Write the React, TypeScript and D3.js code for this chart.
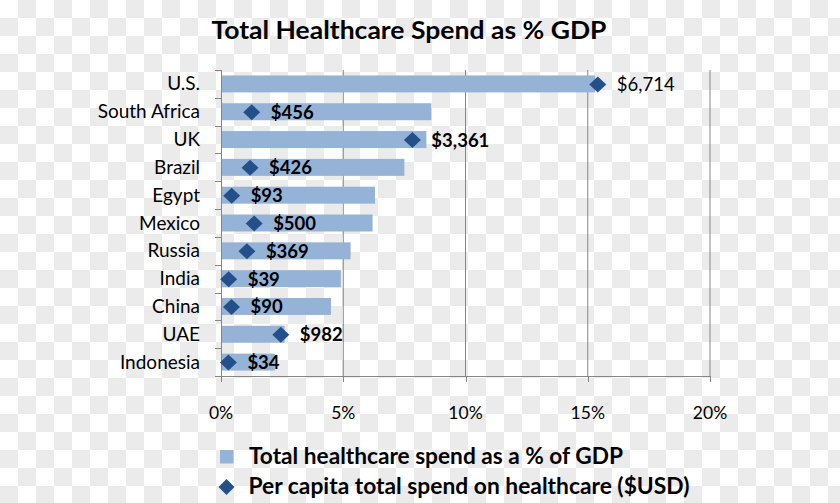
import React from "react";
import * as d3 from "d3";

const title = "Total Healthcare Spend as % GDP";
const countries = ["U.S.", "South Africa", "UK", "Brazil", "Egypt", "Mexico", "Russia", "India", "China", "UAE", "Indonesia"];
const pctGDP = [15.3, 8.6, 8.4, 7.5, 6.3, 6.2, 5.3, 4.9, 4.5, 2.6, 2.2];
const perCapita = [6714, 456, 3361, 426, 93, 500, 369, 39, 90, 982, 34];
const xTicks = [0, 5, 10, 15, 20];
const legendLabels = ["Total healthcare spend as a % of GDP", "Per capita total spend on healthcare ($USD)"];

const W = 840;
const H = 503;
const BAR = "#95B3D7";
const DIAMOND = "#24508A";
const AXIS = "#868686";
const FONT = "Lato, 'Open Sans', sans-serif";

export default function App() {
  const left = 221;
  const right = 710;
  const top = 70;
  const bottom = 376;

  const x = d3.scaleLinear().domain([0, 20]).range([left, right]);
  const xDollar = d3.scaleLinear().domain([0, 7000]).range([left + 5.5, left + 5.5 + 387.1]);
  const y = d3.scaleBand<string>().domain(countries).range([top, bottom]).padding(0);
  const bw = y.bandwidth();
  const barH = bw * 0.61;
  const fmt = d3.format(",");
  const diamondPath = (cx: number, cy: number, rx: number, ry: number) =>
    `M${cx},${cy - ry}L${cx + rx},${cy}L${cx},${cy + ry}L${cx - rx},${cy}Z`;

  return (
    <svg width={W} height={H} style={{ position: "absolute", left: 0, top: 0 }} fontFamily={FONT}>
      <defs>
        <pattern id="checker" x={0} y={0} width={36} height={36} patternUnits="userSpaceOnUse">
          <rect x={0} y={0} width={36} height={36} fill="#ffffff" />
          <rect x={18} y={0} width={18} height={18} fill="#ebebeb" />
          <rect x={0} y={18} width={18} height={18} fill="#ebebeb" />
        </pattern>
      </defs>
      <rect x={0} y={0} width={W} height={H} fill="url(#checker)" />

      <text x={409} y={39} textAnchor="middle" fontSize={25} fontWeight="bold" fill="#000"
        textLength={395} lengthAdjust="spacingAndGlyphs">{title}</text>

      {/* gridlines */}
      {xTicks.slice(1).map((t) => (
        <line key={"g" + t} x1={x(t)} x2={x(t)} y1={top} y2={bottom} stroke={AXIS} strokeWidth={1} />
      ))}

      {/* bars */}
      {countries.map((c, i) => (
        <rect key={"b" + c} x={x(0)} y={(y(c) as number) + (bw - barH) / 2} width={x(pctGDP[i]) - x(0)} height={barH} fill={BAR} />
      ))}

      {/* axes */}
      <line x1={left + 0.5} x2={left + 0.5} y1={top} y2={bottom} stroke={AXIS} />
      <line x1={left - 6} x2={right} y1={bottom + 0.5} y2={bottom + 0.5} stroke={AXIS} />
      {countries.map((c) => (
        <line key={"yt" + c} x1={left - 6} x2={left} y1={Math.round(y(c) as number) + 0.5} y2={Math.round(y(c) as number) + 0.5} stroke={AXIS} />
      ))}
      {xTicks.map((t) => (
        <g key={"xt" + t}>
          <line x1={Math.round(x(t)) + 0.5} x2={Math.round(x(t)) + 0.5} y1={bottom} y2={bottom + 6} stroke={AXIS} />
          <text x={x(t)} y={419} textAnchor="middle" fontSize={17.5} fill="#000">{t + "%"}</text>
        </g>
      ))}

      {/* category labels */}
      {countries.map((c) => (
        <text key={"yl" + c} x={200} y={(y(c) as number) + bw / 2 + 6.5} textAnchor="end" fontSize={19} fill="#000">{c}</text>
      ))}

      {/* diamonds and labels */}
      {countries.map((c, i) => {
        const cx = xDollar(perCapita[i]);
        const cy = (y(c) as number) + bw / 2 + 0.5;
        return (
          <g key={"d" + c}>
            <path d={diamondPath(cx, cy, 8.5, 8)} fill={DIAMOND} />
            <text x={cx + 19} y={cy + 6.5} fontSize={18.5} fontWeight={i === 0 ? "normal" : "bold"} fill="#000">{"$" + fmt(perCapita[i])}</text>
          </g>
        );
      })}

      {/* legend */}
      <rect x={220} y={450} width={13.5} height={13.5} fill={BAR} />
      <text x={249} y={464} fontSize={23} fontWeight="bold" fill="#000" textLength={374} lengthAdjust="spacingAndGlyphs">{legendLabels[0]}</text>
      <path d={diamondPath(226.5, 487, 8, 8)} fill={DIAMOND} />
      <text x={248.5} y={494} fontSize={23} fontWeight="bold" fill="#000" textLength={441} lengthAdjust="spacingAndGlyphs">{legendLabels[1]}</text>
    </svg>
  );
}
